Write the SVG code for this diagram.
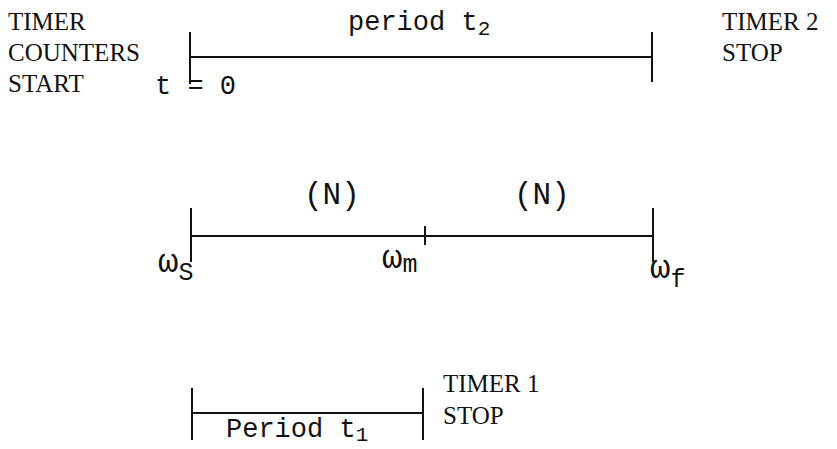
<svg xmlns="http://www.w3.org/2000/svg" width="837" height="449" viewBox="0 0 837 449">
<style>
.cap{font-family:"Liberation Serif",serif;font-size:25px;fill:#111}
.mono{font-family:"Liberation Mono",monospace;font-size:27px;fill:#111}
.sub{font-family:"Liberation Mono",monospace;font-size:21px;fill:#111}
.w{font-family:"Liberation Mono",monospace;font-size:34px;fill:#111}
.wsub{font-family:"Liberation Mono",monospace;font-size:25px;fill:#111}
.n{font-family:"Liberation Mono",monospace;font-size:31px;fill:#111}
.ln{stroke:#111;stroke-width:2;fill:none}
</style>
<rect width="837" height="449" fill="#fff"/>
<g id="labels-top">
<text class="cap" x="8" y="30">TIMER</text>
<text class="cap" x="8" y="61">COUNTERS</text>
<text class="cap" x="8" y="92">START</text>
<text class="mono" x="155" y="94">t = 0</text>
<text class="mono" x="348" y="30">period t<tspan class="sub" dy="5">2</tspan></text>
<text class="cap" x="722" y="30">TIMER 2</text>
<text class="cap" x="722" y="61">STOP</text>
</g>
<g id="connectors">
<line class="ln" x1="190" y1="32" x2="190" y2="84"/>
<line class="ln" x1="190" y1="57" x2="652" y2="57"/>
<line class="ln" x1="652" y1="32" x2="652" y2="82"/>
<line class="ln" x1="191" y1="208" x2="191" y2="262"/>
<line class="ln" x1="191" y1="236" x2="653" y2="236"/>
<line class="ln" x1="425" y1="226" x2="425" y2="245"/>
<line class="ln" x1="653" y1="208" x2="653" y2="262"/>
<line class="ln" x1="192" y1="388" x2="192" y2="440"/>
<line class="ln" x1="192" y1="413" x2="423" y2="413"/>
<line class="ln" x1="423" y1="388" x2="423" y2="440"/>
</g>
<g id="labels-mid">
<text class="n" x="304" y="204">(N)</text>
<text class="n" x="514" y="204">(N)</text>
<text class="w" x="158" y="272">ω<tspan class="wsub" dy="8">S</tspan></text>
<text class="w" x="382" y="268">ω<tspan class="wsub" dy="4">m</tspan></text>
<text class="w" x="650" y="278">ω<tspan class="wsub" dy="9">f</tspan></text>
</g>
<g id="labels-bottom">
<text class="cap" x="443" y="392">TIMER 1</text>
<text class="cap" x="443" y="424">STOP</text>
<text class="mono" x="226" y="437">Period t<tspan class="sub" dy="4">1</tspan></text>
</g>
</svg>
